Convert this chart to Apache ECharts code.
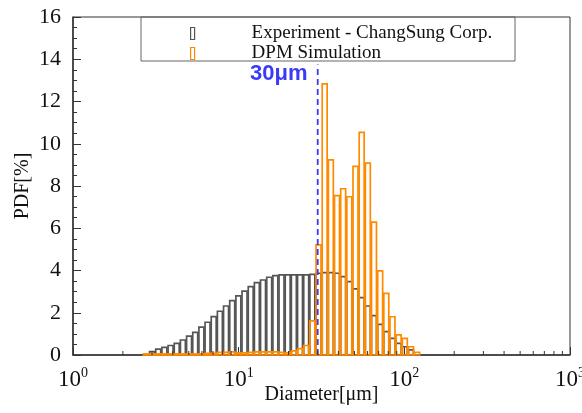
<!DOCTYPE html>
<html>
<head>
<meta charset="utf-8">
<script src="https://cdn.jsdelivr.net/npm/echarts@6/dist/echarts.min.js"></script>
<style>
html,body{margin:0;padding:0;background:#fff;}
#chart{width:582px;height:413px;}
</style>
</head>
<body>
<div id="chart"></div>
<script>
// Bin edges (diameter, μm), log-spaced histogram bins
var binEdges = [2.639, 2.875, 3.132, 3.413, 3.718, 4.051, 4.413, 4.808, 5.238, 5.707, 6.217,
  6.773, 7.379, 8.039, 8.758, 9.541, 10.39, 11.33, 12.34, 13.44, 14.65, 15.96, 17.38, 18.94,
  20.63, 22.48, 24.49, 26.68, 29.07, 31.67, 34.50, 37.58, 40.95, 44.61, 48.60, 52.95, 57.69,
  62.84, 68.46, 74.58, 81.25, 88.52, 96.45, 105.1, 114.5, 124.7];
// PDF [%] per bin
var experimentPDF = [0, 0.16, 0.28, 0.36, 0.45, 0.55, 0.71, 0.89, 1.07, 1.32, 1.55, 1.82, 2.07,
  2.32, 2.57, 2.80, 3.02, 3.24, 3.43, 3.55, 3.68, 3.76, 3.79, 3.79, 3.79, 3.79, 3.79, 3.82,
  3.87, 3.90, 3.90, 3.87, 3.71, 3.47, 3.13, 2.72, 2.32, 1.86, 1.45, 1.11, 0.79, 0.55, 0.39, 0.24, 0];
var simulationPDF = [0.05, 0.05, 0.05, 0.05, 0.05, 0.05, 0.05, 0.05, 0.05, 0.05, 0.08, 0.08, 0.12,
  0.12, 0.15, 0.1, 0.1, 0.12, 0.15, 0.15, 0.15, 0.15, 0.12, 0.1, 0.2, 0.3, 0.45, 1.62,
  5.21, 12.83, 9.24, 7.54, 7.87, 7.49, 8.93, 10.54, 9.08, 6.29, 3.98, 2.92, 1.81, 0.95, 0.79, 0.39, 0.13];
var yTicks = [0, 2, 4, 6, 8, 10, 12, 14, 16];
var xMinorTicks = [2,3,4,5,6,7,8,9,20,30,40,50,60,70,80,90,200,300,400,500,600,700,800,900];
var cutoffDiameter = 30;
var cutoffTop = 13.75;
var seriesNames = ['Experiment - ChangSung Corp.', 'DPM Simulation'];

var GRAY = '#555555', ORANGE = '#ff8a00', BLUE = '#3b3bf5';
var SERIF = '"Liberation Serif", "Times New Roman", serif';

function histData(vals) {
  var out = [];
  for (var i = 0; i < vals.length; i++) {
    if (vals[i] > 0) out.push([binEdges[i], binEdges[i + 1], vals[i]]);
  }
  return out;
}
function barRenderer(color, lw) {
  return function (params, api) {
    var p0 = api.coord([api.value(0), api.value(2)]);
    var p1 = api.coord([api.value(1), 0]);
    return {
      type: 'rect',
      shape: { x: p0[0] + 0.6, y: p0[1], width: Math.max(1, p1[0] - p0[0] - 1.2), height: p1[1] - p0[1] },
      style: { fill: 'none', stroke: color, lineWidth: lw }
    };
  };
}

var chart = echarts.init(document.getElementById('chart'), null, { renderer: 'canvas' });
chart.setOption({
  animation: false,
  backgroundColor: '#fff',
  grid: { left: 73, right: 12, top: 17, bottom: 58, show: true, borderColor: '#333', borderWidth: 1,
    backgroundColor: 'transparent', containLabel: false, outerBoundsMode: 'none' },
  legend: {
    orient: 'vertical', left: 185, top: 19, itemWidth: 4, itemHeight: 12, itemGap: 1,
    selectedMode: false,
    textStyle: { fontFamily: SERIF, fontSize: 19, color: '#111', padding: [0, 0, 0, 52] },
    data: [
      { name: seriesNames[0], icon: 'rect', itemStyle: { color: '#fff', borderColor: GRAY, borderWidth: 1.2 } },
      { name: seriesNames[1], icon: 'rect', itemStyle: { color: '#fff', borderColor: ORANGE, borderWidth: 1.2 } }
    ]
  },
  graphic: [
    { type: 'rect', shape: { x: 141, y: 17, width: 374, height: 44 }, style: { fill: 'none', stroke: '#666', lineWidth: 1 }, z: 10 },
    { type: 'text', left: 250, top: 63, style: { text: '30μm', fontFamily: '"Liberation Sans", Arial, sans-serif', fontWeight: 'bold', fontSize: 22, fill: BLUE }, z: 10 }
  ],
  xAxis: {
    type: 'log', logBase: 10, min: 1, max: 1000,
    name: 'Diameter[μm]', nameLocation: 'middle', nameGap: 30, nameMoveOverlap: false,
    nameTextStyle: { fontFamily: SERIF, fontSize: 20, color: '#111' },
    axisLine: { show: true, lineStyle: { color: '#333', width: 1.5 } },
    axisTick: { show: true, inside: true, length: 8, lineStyle: { color: '#333' } },
    splitLine: { show: false },
    axisLabel: {
      margin: 11, color: '#111',
      formatter: function (v) { return '{b|10}{s|' + Math.round(Math.log10(v)) + '}'; },
      rich: {
        b: { fontFamily: SERIF, fontSize: 23, color: '#111' },
        s: { fontFamily: SERIF, fontSize: 14, color: '#111', padding: [0, 0, 13, 0] }
      }
    }
  },
  yAxis: {
    type: 'value', min: 0, max: 16, interval: 2,
    name: 'PDF[%]', nameLocation: 'middle', nameGap: 40, nameRotate: 90, nameMoveOverlap: false,
    nameTextStyle: { fontFamily: SERIF, fontSize: 20, color: '#111' },
    axisLine: { show: true, lineStyle: { color: '#333', width: 1.5 } },
    axisTick: { show: true, inside: true, length: 8, lineStyle: { color: '#333' } },
    minorTick: { show: true, splitNumber: 4, length: 4, lineStyle: { color: '#333' } },
    splitLine: { show: false },
    axisLabel: { fontFamily: SERIF, fontSize: 22, color: '#111', margin: 12,
      formatter: function (v) { return yTicks.indexOf(v) >= 0 ? String(v) : ''; } }
  },
  series: [
    {
      name: seriesNames[0], type: 'custom', renderItem: barRenderer(GRAY, 1.7),
      encode: { x: [0, 1], y: 2 }, data: histData(experimentPDF), z: 2,
      itemStyle: { color: GRAY }
    },
    {
      name: seriesNames[1], type: 'custom', renderItem: barRenderer(ORANGE, 1.7),
      encode: { x: [0, 1], y: 2 }, data: histData(simulationPDF), z: 3,
      itemStyle: { color: ORANGE }
    },
    {
      name: 'cutoff', type: 'line', data: [[cutoffDiameter, 0], [cutoffDiameter, cutoffTop]],
      symbol: 'none', lineStyle: { color: BLUE, width: 1.8, type: [6, 4] }, z: 4, silent: true
    },
    {
      name: 'minorTicks', type: 'custom', silent: true, z: 5,
      data: xMinorTicks.map(function (v) { return [v]; }),
      encode: { x: 0 },
      renderItem: function (params, api) {
        var p = api.coord([api.value(0), 0]);
        return { type: 'line', shape: { x1: p[0], y1: p[1], x2: p[0], y2: p[1] - 4 }, style: { stroke: '#333', lineWidth: 1 } };
      }
    }
  ]
});
</script>
</body>
</html>
